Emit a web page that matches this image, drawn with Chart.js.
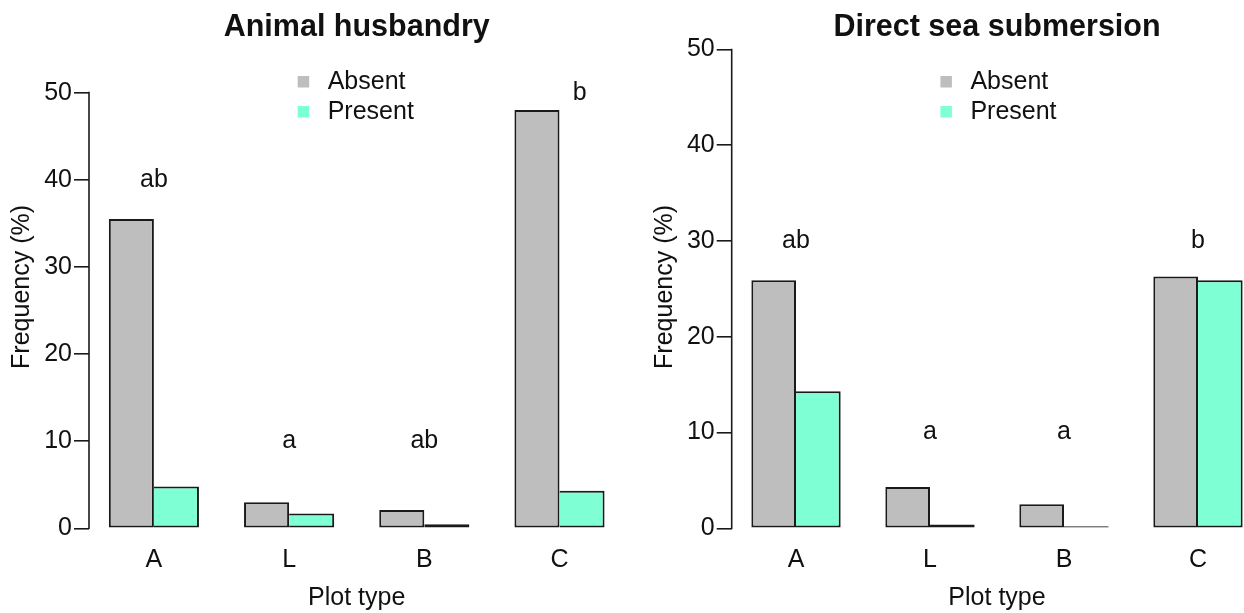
<!DOCTYPE html>
<html>
<head>
<meta charset="utf-8">
<script src="https://cdn.jsdelivr.net/npm/chart.js@4.4.1/dist/chart.umd.min.js"></script>
<style>
  html, body { margin: 0; padding: 0; background: #fff; overflow: hidden; width: 1244px; height: 613px; }
  .panel { position: absolute; top: 0; }
  canvas { display: block; }
</style>
</head>
<body>
<div class="panel" style="left:0"><canvas id="husbandry" width="630" height="613"></canvas></div>
<div class="panel" style="left:630px"><canvas id="submersion" width="650" height="613"></canvas></div>
<script>
// Plot types on the x axis and the two factor levels
const plotTypes = ['A', 'L', 'B', 'C'];
const seriesNames = ['Absent', 'Present'];

// Animal husbandry: frequency (%) per plot type
const husbandryAbsent  = [35.5, 3.0, 2.1, 48.0];
const husbandryPresent = [4.8, 1.7, 0.46, 4.3];
// significance letters and where they sit (x = plot-type index, y = %)
const husbandryLetters = ['ab', 'a', 'ab', 'b'];
const husbandryLetterX = [0, 1, 2, 3.15];
const husbandryLetterY = [40, 10, 10, 50];

// Direct sea submersion: frequency (%) per plot type
const submersionAbsent  = [25.9, 4.3, 2.5, 26.3];
const submersionPresent = [14.3, 0.4, 0, 25.9];
const submersionLetters = ['ab', 'a', 'a', 'b'];
const submersionLetterX = [0, 1, 2, 3];
const submersionLetterY = [30, 10, 10, 30];

// y axis ticks: 0 to 50 by 10
const yTickTop = 50;
const yTickStep = 10;

const FONT = '"Liberation Sans", Arial, Helvetica, sans-serif';
const INK = '#111';
const LINE = '#1a1a1a';
const GREY = '#BEBEBE';
const AQUA = '#7FFFD4';

// axis line that only runs across the tick range (0 .. 50)
const axisLine = {
  id: 'axisLine',
  afterDraw(chart) {
    const s = chart.scales.y;
    const ctx = chart.ctx;
    ctx.save();
    ctx.strokeStyle = LINE;
    ctx.lineWidth = 1.6;
    ctx.beginPath();
    ctx.moveTo(s.right, s.getPixelForValue(0) + 0.8);
    ctx.lineTo(s.right, s.getPixelForValue(yTickTop) - 0.8);
    ctx.stroke();
    ctx.restore();
  }
};

// stacked key built from the datasets' labels and fill colours
function makeKey(offsetX, top, rowGap, box) {
  return {
    id: 'key',
    afterDraw(chart) {
      const ctx = chart.ctx;
      const x0 = chart.chartArea.left + offsetX;
      ctx.save();
      ctx.font = '25px ' + FONT;
      ctx.textAlign = 'left';
      ctx.textBaseline = 'middle';
      chart.data.datasets.forEach((ds, i) => {
        const y = top + i * rowGap;
        ctx.fillStyle = ds.backgroundColor;
        ctx.fillRect(x0, y, box, box);
        ctx.fillStyle = INK;
        ctx.fillText(ds.label, x0 + 30, y + box / 2);
      });
      ctx.restore();
    }
  };
}

// significance letters placed in data coordinates
function makeLetters(texts, xs, ys) {
  return {
    id: 'letters',
    afterDatasetsDraw(chart) {
      const { x, y } = chart.scales;
      const ctx = chart.ctx;
      ctx.save();
      ctx.font = '25px ' + FONT;
      ctx.fillStyle = INK;
      ctx.textAlign = 'center';
      ctx.textBaseline = 'middle';
      texts.forEach((t, i) => ctx.fillText(t, x.getPixelForValue(xs[i]), y.getPixelForValue(ys[i])));
      ctx.restore();
    }
  };
}

function toPoints(values) {
  return values.map((v, i) => ({ x: i, y: v }));
}

function buildPanel(id, p) {
  const labelFont = { family: FONT, size: 25 };
  return new Chart(document.getElementById(id), {
    type: 'bar',
    data: {
      datasets: [
        {
          label: seriesNames[0],
          data: toPoints(p.absent),
          backgroundColor: GREY,
          borderColor: LINE,
          borderWidth: { top: 2, left: 2, right: 2, bottom: 2 },
          borderSkipped: false
        },
        {
          label: seriesNames[1],
          data: toPoints(p.present),
          backgroundColor: AQUA,
          borderColor: LINE,
          borderWidth: { top: 2, left: 0, right: 2, bottom: 2 },
          borderSkipped: false,
          minBarLength: 2,
          clip: false
        }
      ]
    },
    options: {
      responsive: false,
      animation: false,
      events: [],
      categoryPercentage: 2 / 3,
      barPercentage: 1,
      layout: { padding: { left: p.padLeft, right: p.padRight, top: 0, bottom: 0 } },
      plugins: {
        legend: { display: false },
        tooltip: { enabled: false },
        title: {
          display: true,
          text: p.title,
          fullSize: false,
          color: INK,
          font: { family: FONT, size: 30.5, weight: 'bold' },
          padding: { top: 9, bottom: 0 }
        }
      },
      scales: {
        x: {
          type: 'linear',
          min: -0.48,
          max: 3.48,
          offset: false,
          grid: { display: false, drawTicks: false },
          border: { display: false },
          afterBuildTicks: s => { s.ticks = plotTypes.map((_, i) => ({ value: i })); },
          ticks: {
            callback: v => plotTypes[v],
            padding: 17,
            color: INK,
            font: labelFont,
            maxRotation: 0,
            autoSkip: false
          },
          title: { display: true, text: 'Plot type', color: INK, font: labelFont, padding: 0 },
          afterFit: s => { s.height = 84.7; }
        },
        y: {
          min: 0,
          max: p.yMax,
          grid: { drawOnChartArea: false, drawTicks: true, tickLength: 15, color: LINE, lineWidth: 1.6 },
          border: { display: false },
          ticks: { stepSize: yTickStep, includeBounds: false, padding: 2, color: INK, font: labelFont },
          title: { display: true, text: 'Frequency (%)', color: INK, font: labelFont, padding: { top: 7, bottom: 0 } },
          afterFit: s => { s.width = 89; }
        }
      }
    },
    plugins: [axisLine, makeKey(208.7, 76, 30, 11.5), makeLetters(p.letters, p.letterX, p.letterY)]
  });
}

buildPanel('husbandry', {
  title: 'Animal husbandry',
  absent: husbandryAbsent,
  present: husbandryPresent,
  letters: husbandryLetters,
  letterX: husbandryLetterX,
  letterY: husbandryLetterY,
  yMax: 55.4,
  padLeft: 0,
  padRight: 5.6
});

buildPanel('submersion', {
  title: 'Direct sea submersion',
  absent: submersionAbsent,
  present: submersionPresent,
  letters: submersionLetters,
  letterX: submersionLetterX,
  letterY: submersionLetterY,
  yMax: 50.4,
  padLeft: 12.7,
  padRight: 17.7
});
</script>
</body>
</html>
